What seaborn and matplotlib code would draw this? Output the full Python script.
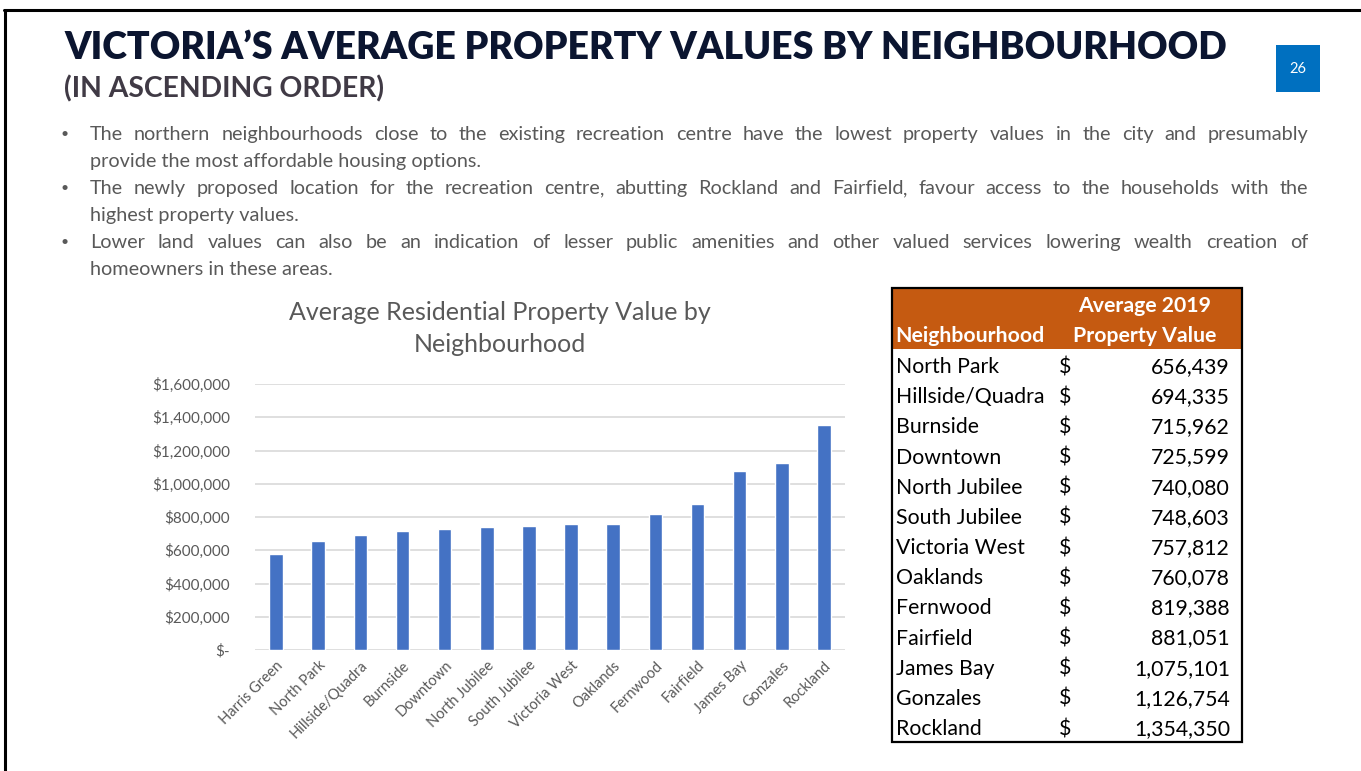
import matplotlib
matplotlib.use("Agg")
import matplotlib.pyplot as plt
import seaborn as sns
from matplotlib.patches import Rectangle
from matplotlib.lines import Line2D
from matplotlib.ticker import FuncFormatter

# data
neighbourhoods = ["Harris Green", "North Park", "Hillside/Quadra", "Burnside", "Downtown",
                  "North Jubilee", "South Jubilee", "Victoria West", "Oaklands", "Fernwood",
                  "Fairfield", "James Bay", "Gonzales", "Rockland"]
values = [575000, 656439, 694335, 715962, 725599, 740080, 748603, 757812, 760078,
          819388, 881051, 1075101, 1126754, 1354350]
yticks = [0, 200000, 400000, 600000, 800000, 1000000, 1200000, 1400000, 1600000]

table_names = neighbourhoods[1:]
table_values = values[1:]

title = "VICTORIA\u2019S AVERAGE PROPERTY VALUES BY NEIGHBOURHOOD"
subtitle = "(IN ASCENDING ORDER)"
page_no = "26"
bullets = [
    ["The northern neighbourhoods close to the existing recreation centre have the lowest property values in the city and presumably",
     "provide the most affordable housing options."],
    ["The newly proposed location for the recreation centre, abutting Rockland and Fairfield, favour access to the households with the",
     "highest property values."],
    ["Lower land values can also be an indication of lesser public amenities and other valued services lowering wealth creation of",
     "homeowners in these areas."],
]
chart_title = "Average Residential Property Value by\nNeighbourhood"

W, H = 1361, 771
sns.set_style("white")
plt.rcParams["font.family"] = ["Lato", "DejaVu Sans"]

fig = plt.figure(figsize=(W / 100, H / 100), dpi=100)


def fx(x):
    return x / W


def fy(y):
    return 1 - y / H


GREY = "#595959"

# slide frame
fig.add_artist(Line2D([fx(4), fx(W)], [fy(10), fy(10)], color="black", lw=2.2))
fig.add_artist(Line2D([fx(5), fx(5)], [fy(10), fy(H)], color="black", lw=2.2))

# titles
fig.text(fx(64), fy(48), title, fontsize=27, fontweight="heavy", color="#0B1530",
         va="center", ha="left")
fig.text(fx(64), fy(89), subtitle, fontsize=20.3, fontweight="bold", color="#403A45",
         va="center", ha="left")
fig.add_artist(Rectangle((fx(1276), fy(92)), fx(44), 47 / H, color="#0070C0", lw=0))
fig.text(fx(1298), fy(69), page_no, fontsize=10.5, color="white", ha="center", va="center")

# bullets, justified (commas drawn on their own so the word baseline stays put)
renderer = fig.canvas.get_renderer()
x0, x1 = 90, 1308
BFS = 14.3
y = 134
for para in bullets:
    fig.text(fx(60), fy(y), "\u2022", fontsize=10, color=GREY, ha="left", va="center")
    for i, line in enumerate(para):
        base = fy(y + 6)
        if i == len(para) - 1:
            fig.text(fx(x0), base, line, fontsize=BFS, color=GREY, ha="left", va="baseline")
        else:
            words = line.split()
            groups = []
            for w in words:
                parts = [w[:-1], ","] if w.endswith(",") else [w]
                arts = [fig.text(0, base, p, fontsize=BFS, color=GREY, ha="left",
                                 va="baseline") for p in parts]
                ws = [a.get_window_extent(renderer).width for a in arts]
                groups.append((arts, ws))
            total = sum(sum(ws) for _, ws in groups)
            gap = (x1 - x0 - total) / (len(groups) - 1)
            pos = x0
            for arts, ws in groups:
                for a, w in zip(arts, ws):
                    a.set_x(fx(pos))
                    pos += w
                pos += gap
        y += 27

# bar chart
ax = fig.add_axes([fx(255), fy(650), fx(845) - fx(255), fy(384) - fy(650)])
sns.barplot(x=neighbourhoods, y=values, color="#4472C4", width=0.32, saturation=1, ax=ax)
ax.set_ylim(0, 1600000)
ax.set_yticks(yticks)
ax.yaxis.set_major_formatter(FuncFormatter(lambda v, p: "$-" if v == 0 else f"${v:,.0f}"))
ax.grid(axis="y", color="#D9D9D9", lw=1.2)
ax.set_axisbelow(True)
for s in ax.spines.values():
    s.set_visible(False)
ax.tick_params(axis="y", length=0, pad=18, labelsize=11, labelcolor=GREY)
ax.tick_params(axis="x", length=0, pad=6, labelsize=10.5, labelcolor=GREY)
for lab in ax.get_xticklabels():
    lab.set_rotation(45)
    lab.set_ha("right")
    lab.set_rotation_mode("anchor")
ax.set_xlabel("")
ax.set_ylabel("")
fig.text(fx(500), fy(328.5), chart_title, fontsize=18, color=GREY, ha="center",
         va="center", linespacing=1.45)

# table
tl, tr, tt, tb = 892, 1242, 288, 742
TFS = 15.3
fig.add_artist(Rectangle((fx(tl), fy(349)), fx(tr) - fx(tl), (349 - tt) / H,
                         color="#C55A11", lw=0))
fig.add_artist(Rectangle((fx(tl), fy(tb)), fx(tr) - fx(tl), (tb - tt) / H,
                         fill=False, edgecolor="black", lw=1.6))
fig.text(fx(895), fy(342), "Neighbourhood", fontsize=TFS, fontweight="bold",
         color="white", ha="left", va="baseline")
fig.text(fx(1145), fy(312), "Average 2019", fontsize=TFS, fontweight="bold",
         color="white", ha="center", va="baseline")
fig.text(fx(1145), fy(342), "Property Value", fontsize=TFS, fontweight="bold",
         color="white", ha="center", va="baseline")
for i, (n, v) in enumerate(zip(table_names, table_values)):
    rb = fy(366 + i * 30.17 + 7)
    fig.text(fx(896), rb, n, fontsize=TFS, color="black", ha="left", va="baseline")
    fig.text(fx(1059), rb, "$", fontsize=TFS, color="black", ha="left", va="baseline")
    fig.text(fx(1230), rb, f"{v:,}", fontsize=TFS, color="black", ha="right", va="baseline")

fig.savefig("out.png", dpi=100)
